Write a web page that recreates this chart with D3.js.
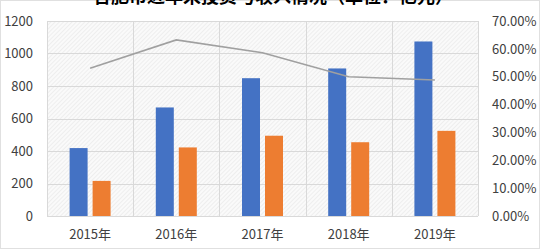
<!DOCTYPE html>
<html>
<head>
<meta charset="utf-8">
<script src="https://cdn.jsdelivr.net/npm/d3@7"></script>
<style>
  body { margin: 0; background: #fff; }
  text { font-family: "Noto Sans CJK SC", "Noto Sans", sans-serif; fill: #404040; }
</style>
</head>
<body>
<script>
// chart data
const years = ["2015年", "2016年", "2017年", "2018年", "2019年"];
const blueValues = [418, 668, 848, 908, 1074];
const orangeValues = [216, 422, 494, 454, 524];
const ratioValues = [0.530, 0.632, 0.586, 0.500, 0.488];
const leftTicks = [0, 200, 400, 600, 800, 1000, 1200];
const rightTicks = [0, 0.1, 0.2, 0.3, 0.4, 0.5, 0.6, 0.7];
const titleText = "合肥市近年来投资与收入情况（单位：亿元）";

const msm = { width: 540, height: 249 };
const plot = { left: 47, right: 478, top: 21, bottom: 216 };

const svg = d3.select("body").append("svg")
  .attr("width", msm.width)
  .attr("height", msm.height);

// light hatch background like the excel pattern fill
const defs = svg.append("defs");
const pat = defs.append("pattern")
  .attr("id", "hatch")
  .attr("width", 3).attr("height", 3)
  .attr("patternUnits", "userSpaceOnUse")
  .attr("patternTransform", "rotate(45)");
pat.append("rect").attr("width", 3).attr("height", 3).attr("fill", "#fafafa");
pat.append("line").attr("x1", 0).attr("y1", 0).attr("x2", 0).attr("y2", 3)
  .attr("stroke", "#e2e2e2").attr("stroke-width", 1);

svg.append("rect")
  .attr("x", 0.5).attr("y", 0.5)
  .attr("width", msm.width - 1).attr("height", msm.height - 1)
  .attr("fill", "#fff").attr("stroke", "#e0e0e0");

svg.append("rect")
  .attr("x", plot.left).attr("y", plot.top)
  .attr("width", plot.right - plot.left).attr("height", plot.bottom - plot.top)
  .attr("fill", "url(#hatch)");

// scales
const xScale = d3.scaleBand()
  .domain(years)
  .range([plot.left, plot.right]);

const yScale = d3.scaleLinear()
  .domain([0, 1200])
  .range([plot.bottom, plot.top]);

const y2Scale = d3.scaleLinear()
  .domain([0, 0.7])
  .range([plot.bottom, plot.top]);

// horizontal gridlines
svg.append("g")
  .selectAll("line").data(leftTicks).enter()
  .append("line")
    .attr("x1", plot.left).attr("x2", plot.right)
    .attr("y1", d => Math.round(yScale(d)) + 0.5)
    .attr("y2", d => Math.round(yScale(d)) + 0.5)
    .attr("stroke", "#d9d9d9");

// vertical gridlines at band edges
const edges = years.map(d => xScale(d)).concat([plot.right]);
svg.append("g")
  .selectAll("line").data(edges).enter()
  .append("line")
    .attr("x1", d => Math.round(d) + 0.5).attr("x2", d => Math.round(d) + 0.5)
    .attr("y1", plot.top).attr("y2", plot.bottom)
    .attr("stroke", "#d9d9d9");

// bars
const barW = 18, gap = 5;
const center = d => xScale(d) + xScale.bandwidth() / 2;

svg.append("g").selectAll("rect").data(years).enter()
  .append("rect")
    .attr("x", d => center(d) - gap / 2 - barW)
    .attr("y", (d, i) => yScale(blueValues[i]))
    .attr("width", barW)
    .attr("height", (d, i) => yScale(0) - yScale(blueValues[i]))
    .attr("fill", "#4472C4");

svg.append("g").selectAll("rect").data(years).enter()
  .append("rect")
    .attr("x", d => center(d) + gap / 2)
    .attr("y", (d, i) => yScale(orangeValues[i]))
    .attr("width", barW)
    .attr("height", (d, i) => yScale(0) - yScale(orangeValues[i]))
    .attr("fill", "#ED7D31");

// ratio line on right axis
const line = d3.line()
  .x((d, i) => center(years[i]))
  .y(d => y2Scale(d));

svg.append("path")
  .datum(ratioValues)
  .attr("d", line)
  .attr("fill", "none")
  .attr("stroke", "#a0a0a0")
  .attr("stroke-width", 1.6);

// left axis labels
const leftAxis = svg.append("g")
  .attr("transform", "translate(33,0)")
  .call(d3.axisLeft(yScale).tickValues(leftTicks).tickSize(0).tickPadding(0)
    .tickFormat(d3.format("d")));
leftAxis.select(".domain").remove();
leftAxis.selectAll("text")
  .style("font-size", "13px")
  .style("font-family", "'Noto Sans CJK SC', sans-serif")
  .attr("fill", "#404040");

// right axis labels
const rightAxis = svg.append("g")
  .attr("transform", "translate(492,0)")
  .call(d3.axisRight(y2Scale).tickValues(rightTicks).tickSize(0).tickPadding(0)
    .tickFormat(d => (d * 100).toFixed(2) + "%"));
rightAxis.select(".domain").remove();
rightAxis.selectAll("text")
  .style("font-size", "13px")
  .style("font-family", "'Noto Sans CJK SC', sans-serif")
  .attr("fill", "#404040");

// bottom axis labels
const xAxis = svg.append("g")
  .attr("transform", "translate(0," + plot.bottom + ")")
  .call(d3.axisBottom(xScale).tickSize(0).tickPadding(14));
xAxis.select(".domain").remove();
xAxis.selectAll("text")
  .style("font-size", "13px")
  .style("font-family", "'Noto Sans CJK SC', sans-serif")
  .attr("fill", "#404040");

// title, mostly cropped off the top like the picture
svg.append("text")
  .attr("x", 273)
  .attr("y", 3)
  .attr("text-anchor", "middle")
  .style("font-size", "18px")
  .style("font-weight", "bold")
  .style("fill", "#000")
  .text(titleText);
</script>
</body>
</html>
